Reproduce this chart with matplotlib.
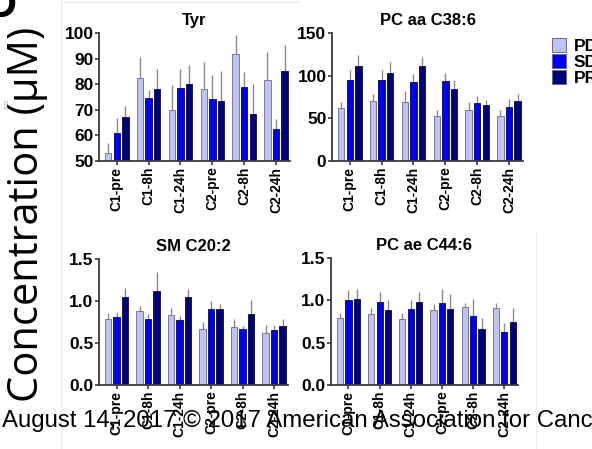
import numpy as np
import matplotlib.pyplot as plt
from matplotlib.lines import Line2D

plt.rcParams['font.family'] = ['Liberation Sans', 'DejaVu Sans']

timepoints = ['C1-pre', 'C1-8h', 'C1-24h', 'C2-pre', 'C2-8h', 'C2-24h']
groups = ['PD', 'SD', 'PR']
colors = ['#bfc2f5', '#0000f5', '#00007e']
edges = ['#7a7a8a', '#1a1a4a', '#1a1a3a']

# mean values (PD, SD, PR) and upper error bars, per time point
tyr_mean = [[53.0, 82.6, 70.0, 78.0, 91.9, 81.7],
            [61.1, 74.5, 78.5, 74.3, 78.9, 62.4],
            [67.0, 78.3, 80.0, 73.6, 68.5, 85.0]]
tyr_top = [[57.1, 90.7, 79.6, 88.6, 99.1, 92.4],
           [66.9, 77.9, 86.1, 83.6, 84.7, 66.4],
           [71.3, 86.1, 87.4, 85.3, 80.1, 95.4]]

pcaa_mean = [[61.9, 70.1, 69.7, 53.3, 59.9, 53.3],
             [94.8, 94.8, 92.8, 93.6, 68.5, 63.1],
             [111.2, 103.0, 111.2, 83.8, 65.8, 70.5]]
pcaa_top = [[68.9, 78.3, 81.9, 59.9, 68.9, 59.5],
            [106.1, 106.9, 102.2, 103.4, 75.6, 72.9],
            [124.2, 115.9, 121.4, 95.2, 71.3, 78.3]]

sm_mean = [[0.787, 0.882, 0.831, 0.665, 0.689, 0.621],
           [0.807, 0.780, 0.772, 0.910, 0.665, 0.653],
           [1.045, 1.116, 1.045, 0.902, 0.847, 0.708]]
sm_top = [[0.859, 0.946, 0.914, 0.748, 0.791, 0.712],
          [0.871, 0.847, 0.823, 1.005, 0.700, 0.720],
          [1.156, 1.342, 1.144, 0.970, 1.013, 0.787]]

pcae_mean = [[0.791, 0.843, 0.780, 0.882, 0.921, 0.906],
             [1.004, 0.984, 0.894, 0.965, 0.815, 0.630],
             [1.020, 0.886, 0.976, 0.894, 0.665, 0.744]]
pcae_top = [[0.850, 0.909, 0.850, 0.961, 0.965, 0.972],
            [1.126, 1.094, 1.004, 1.138, 1.016, 0.728],
            [1.138, 1.004, 1.102, 1.075, 0.791, 0.909]]

W, H = 592, 449
fig = plt.figure(figsize=(W / 100, H / 100), dpi=100)


def box(l, r, t, b):
    return [l / W, 1 - b / H, (r - l) / W, (b - t) / H]


panels = [
    ('Tyr', tyr_mean, tyr_top, (50, 100), [50, 60, 70, 80, 90, 100], '%d', box(99, 290, 33, 161)),
    ('PC aa C38:6', pcaa_mean, pcaa_top, (0, 150), [0, 50, 100, 150], '%d', box(332, 523, 33, 161)),
    ('SM C20:2', sm_mean, sm_top, (0, 1.5), [0, 0.5, 1.0, 1.5], '%.1f', box(99, 288, 259, 385)),
    ('PC ae C44:6', pcae_mean, pcae_top, (0, 1.5), [0, 0.5, 1.0, 1.5], '%.1f', box(331, 518, 258, 385)),
]

x = np.arange(len(timepoints))
bw = 0.2
step = 0.27
for title, means, tops, ylim, yticks, fmt, rect in panels:
    ax = fig.add_axes(rect)
    for k in range(3):
        m = np.array(means[k])
        e = np.array(tops[k]) - m
        xs = x + (k - 1) * step
        ax.bar(xs, m - ylim[0], bw, bottom=ylim[0], color=colors[k], edgecolor=edges[k],
               linewidth=0.7, label=groups[k], zorder=2)
        ax.errorbar(xs, m, yerr=[np.zeros_like(e), e], fmt='none', ecolor='#8a8a8a',
                    elinewidth=1, capsize=0, zorder=1)
    ax.set_xlim(-0.56, 5.44)
    ax.set_ylim(*ylim)
    ax.set_yticks(yticks)
    ax.set_yticklabels([fmt % v for v in yticks], fontsize=12.5, fontweight='bold')
    ax.set_xticks(x)
    ax.set_xticklabels(timepoints, rotation=90, fontsize=10, fontweight='bold')
    ax.set_title(title, fontsize=12, fontweight='bold', pad=6)
    for s in ['top', 'right']:
        ax.spines[s].set_visible(False)
    for s in ['left', 'bottom']:
        ax.spines[s].set_color('#3a3a3a')
        ax.spines[s].set_linewidth(1.3)
    ax.tick_params(length=3, width=1.2, pad=1, color='#3a3a3a')
    if title == 'PC aa C38:6':
        leg_ax = ax

leg = leg_ax.legend(loc='upper left', bbox_to_anchor=(552 / W, 1 - 38 / H),
                    bbox_transform=fig.transFigure, frameon=False,
                    prop={'weight': 'bold', 'size': 12.5}, handlelength=0.8,
                    handleheight=0.85, labelspacing=0.0, handletextpad=0.45,
                    borderpad=0, borderaxespad=0)
for p in leg.get_patches():
    p.set_edgecolor('#6a6a7a')

# large shared y label, panel letter and footer
fig.text(27 / W, 1 - 214 / H, 'Concentration (\u03bcM)', rotation=90, fontsize=30,
         family=['Open Sans', 'DejaVu Sans'], ha='center', va='center')
fig.text(16 / W, 1 - 17 / H, 'D', fontsize=30, fontweight='bold', ha='right', va='baseline')
fig.text(4 / W, 1 - 106 / H, 'D\nR', fontsize=4, color='#999999', ha='left', va='center',
         linespacing=1.0)
fig.text(2 / W, 1 - 427 / H, 'August 14, 2017 \u00a9 2017 American Association for Cancer Research',
         fontsize=17.3, ha='left', va='baseline')

# faint borders of the pasted panels
for xs_, ys_ in [([61, 61], [0, 449]), ([61, 300], [2, 2]), ([536, 536], [232, 449])]:
    fig.add_artist(Line2D([v / W for v in xs_], [1 - v / H for v in ys_],
                          color='#ececec', lw=1))

fig.savefig('out.png', dpi=100)
